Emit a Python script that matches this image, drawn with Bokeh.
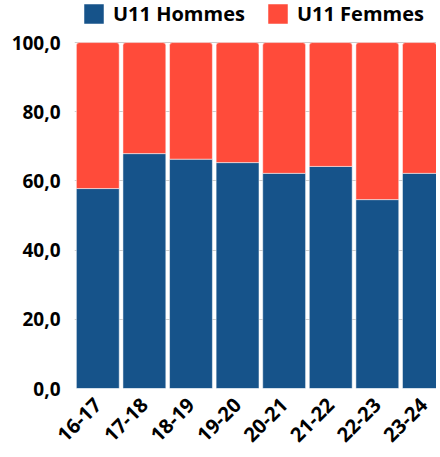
from bokeh.plotting import figure
from bokeh.models import (Range1d, FixedTicker, CustomJSTickFormatter, Legend, LegendItem,
                          ColumnDataSource)
from bokeh.embed import file_html
from bokeh.resources import INLINE
import math

categories = ["16-17", "17-18", "18-19", "19-20", "20-21", "21-22", "22-23", "23-24"]
hommes = [57.8, 67.9, 66.3, 65.3, 62.2, 64.2, 54.6, 62.2]
femmes = [round(100 - h, 1) for h in hommes]
y_ticks = [0, 20, 40, 60, 80, 100]

BLUE = "#16538A"
RED = "#FF4B3A"
FONT = "Open Sans"

xs = [i + 0.5 for i in range(len(categories))]
src = ColumnDataSource(dict(
    x=xs, cat=categories, hommes=hommes, femmes=femmes,
    total=[h + f for h, f in zip(hommes, femmes)],
))

# frame extends above 100 so the legend (drawn inside the frame) sits at the top
p = figure(width=436, height=451, output_backend="svg", toolbar_location=None,
           x_range=Range1d(0, 7.77), y_range=Range1d(0, 112.16),
           min_border_left=74, min_border_right=0, min_border_top=0, min_border_bottom=59)
p.outline_line_color = None
p.background_fill_color = "white"

r1 = p.vbar(x="x", width=0.92, bottom=0, top="hommes", source=src,
            fill_color=BLUE, line_color="white", line_width=0.5)
r2 = p.vbar(x="x", width=0.92, bottom="hommes", top="total", source=src,
            fill_color=RED, line_color="white", line_width=0.5,
            border_radius=(3, 3, 0, 0))

p.xgrid.visible = False
p.ygrid.ticker = FixedTicker(ticks=y_ticks)
p.ygrid.grid_line_color = "#cccccc"
p.ygrid.grid_line_width = 1

p.yaxis.ticker = FixedTicker(ticks=y_ticks)
p.yaxis.formatter = CustomJSTickFormatter(code="return tick.toFixed(1).replace('.', ',');")
p.xaxis.ticker = FixedTicker(ticks=xs)
p.xaxis.formatter = CustomJSTickFormatter(args=dict(labels=categories),
                                          code="return labels[Math.floor(tick)];")
p.xaxis.major_label_orientation = math.pi / 4
for ax in (p.xaxis, p.yaxis):
    ax.axis_line_color = None
    ax.major_tick_line_color = None
    ax.minor_tick_line_color = None
    ax.major_tick_out = 0
    ax.major_tick_in = 0
    ax.major_label_text_font = FONT
    ax.major_label_text_font_style = "bold"
    ax.major_label_text_color = "black"
    ax.major_label_text_font_size = "19px"
p.xaxis.major_label_text_font_size = "20px"
p.yaxis.major_label_standoff = 14
p.xaxis.major_label_standoff = 13

legend = Legend(items=[LegendItem(label="U11 Hommes", renderers=[r1]),
                       LegendItem(label="U11 Femmes", renderers=[r2])],
                location=(7, 361), orientation="horizontal",
                glyph_width=25, glyph_height=25, label_standoff=7, spacing=20,
                padding=0, margin=0, border_line_color=None, background_fill_alpha=0,
                label_text_font=FONT, label_text_font_style="bold",
                label_text_color="black",
                label_text_font_size="20px", label_height=25)
p.add_layout(legend, "center")

open("out.html", "w").write(file_html(p, INLINE))
